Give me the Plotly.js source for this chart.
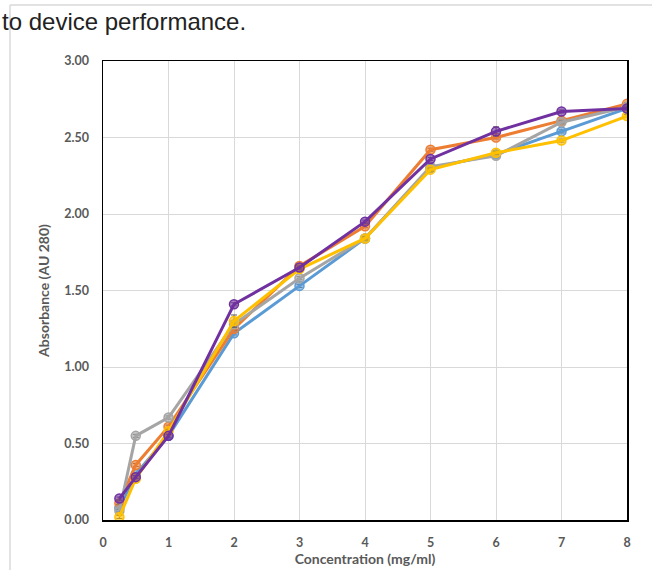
<!DOCTYPE html>
<html>
<head>
<meta charset="utf-8">
<script src="https://cdn.plot.ly/plotly-3.0.1.min.js"></script>
<style>html,body{margin:0;padding:0;background:#fff;}#chart{width:652px;height:570px;}</style>
</head>
<body>
<div id="chart"></div>
<script>
const concentration = [0.25, 0.5, 1, 2, 3, 4, 5, 6, 7, 8];
const seriesBlue   = [0.08, 0.30, 0.55, 1.22, 1.53, 1.84, 2.30, 2.39, 2.54, 2.69];
const seriesOrange = [0.11, 0.36, 0.61, 1.25, 1.66, 1.92, 2.42, 2.50, 2.61, 2.72];
const seriesGray   = [0.06, 0.55, 0.67, 1.28, 1.58, 1.84, 2.31, 2.38, 2.60, 2.70];
const seriesYellow = [0.02, 0.27, 0.58, 1.30, 1.64, 1.84, 2.29, 2.40, 2.48, 2.64];
const seriesPurple = [0.14, 0.28, 0.55, 1.41, 1.65, 1.95, 2.36, 2.54, 2.67, 2.69];
const errBlue   = [0.01, 0.01, 0.02, 0.01, 0.01, 0.01, 0.01, 0.01, 0.01, 0.01];
const errOrange = [0.01, 0.01, 0.01, 0.01, 0.01, 0.01, 0.01, 0.01, 0.01, 0.01];
const errGray   = [0.01, 0.01, 0.01, 0.01, 0.01, 0.01, 0.01, 0.01, 0.01, 0.01];
const errYellow = [0.01, 0.01, 0.01, 0.04, 0.01, 0.01, 0.01, 0.01, 0.01, 0.01];
const errPurple = [0.01, 0.01, 0.01, 0.01, 0.01, 0.01, 0.01, 0.03, 0.01, 0.01];
const yTicks = [0, 0.5, 1, 1.5, 2, 2.5, 3];
const xTicks = [0, 1, 2, 3, 4, 5, 6, 7, 8];

function mk(y, err, color, fill) {
  return {
    x: concentration, y: y, type: 'scatter', mode: 'lines+markers',
    line: {color: color, width: 3},
    marker: {symbol: 'circle', size: 9, color: fill, line: {color: color, width: 1.5}},
    error_y: {type: 'data', array: err, visible: true, color: '#595959', thickness: 1, width: 3},
    showlegend: false, hoverinfo: 'skip'
  };
}
const traces = [
  mk(seriesBlue, errBlue, '#5B9BD5', 'rgba(91,155,213,0.6)'),
  mk(seriesOrange, errOrange, '#ED7D31', 'rgba(237,125,49,0.6)'),
  mk(seriesGray, errGray, '#A5A5A5', 'rgba(165,165,165,0.6)'),
  mk(seriesYellow, errYellow, '#FFC000', 'rgba(255,192,0,0.6)'),
  mk(seriesPurple, errPurple, '#7030A0', 'rgba(112,48,160,0.6)')
];
const tickFont = {family: 'Lato, "Open Sans", sans-serif', size: 12.5, color: '#595959', weight: 'bold'};
const layout = {
  width: 652, height: 570,
  margin: {l: 103, r: 25, t: 61, b: 50},
  paper_bgcolor: '#fff', plot_bgcolor: '#fff',
  xaxis: {
    range: [0, 8], tickvals: xTicks, ticktext: xTicks.map(String),
    showgrid: true, gridcolor: '#d9d9d9', gridwidth: 1,
    showline: true, linecolor: '#000', linewidth: 1.5, mirror: true,
    ticks: 'outside', ticklen: 10, tickcolor: 'rgba(0,0,0,0)',
    tickfont: tickFont, zeroline: false,
    title: {text: 'Concentration (mg/ml)', font: {family: 'Lato, "Open Sans", sans-serif', size: 14, color: '#595959', weight: 'bold'}, standoff: 5}
  },
  yaxis: {
    range: [0, 3], tickvals: yTicks, ticktext: yTicks.map(v => v.toFixed(2)),
    showgrid: true, gridcolor: '#d9d9d9', gridwidth: 1,
    showline: true, linecolor: '#000', linewidth: 1.5, mirror: true,
    ticks: 'outside', ticklen: 10, tickcolor: 'rgba(0,0,0,0)',
    tickfont: tickFont, zeroline: false,
    title: {text: 'Absorbance (AU 280)', font: {family: 'Lato, "Open Sans", sans-serif', size: 14, color: '#595959', weight: 'bold'}, standoff: 11}
  },
  shapes: [
    {type: 'line', xref: 'paper', yref: 'paper', x0: -0.1775, x1: -0.1775, y0: 1.122, y1: -0.2, line: {color: '#d9d9d9', width: 1.5}},
    {type: 'line', xref: 'paper', yref: 'paper', x0: -0.1775, x1: 1.05, y0: 1.122, y1: 1.122, line: {color: '#d9d9d9', width: 1.5}}
  ],
  annotations: [
    {text: 'to device performance.', xref: 'paper', yref: 'paper', x: -0.1966, y: 1.087, xanchor: 'left', yanchor: 'middle', showarrow: false,
     font: {family: '"Liberation Sans", Arial, sans-serif', size: 24, color: '#222'}}
  ]
};
Plotly.newPlot('chart', traces, layout, {displayModeBar: false, staticPlot: true});
</script>
</body>
</html>
